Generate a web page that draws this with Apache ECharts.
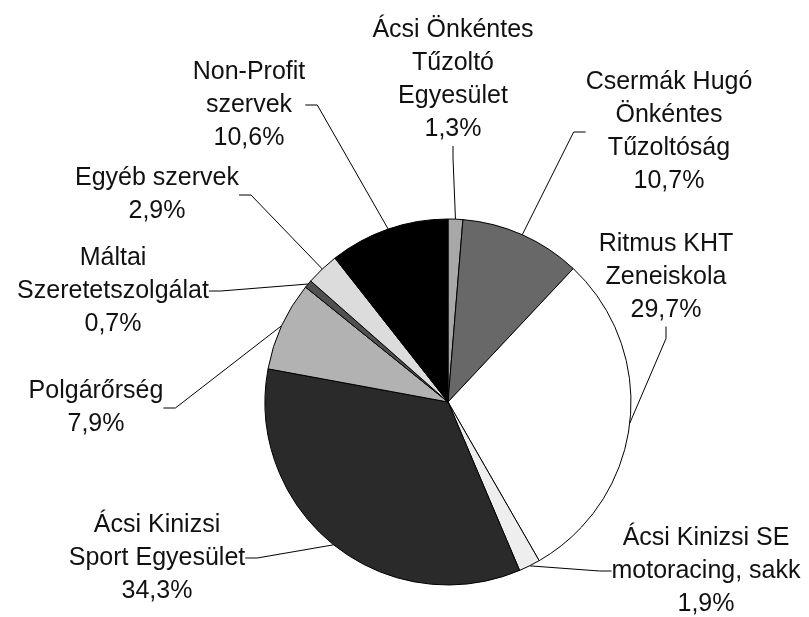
<!DOCTYPE html>
<html>
<head>
    <meta charset="UTF-8">
    <title>Támogatások megoszlása</title>
    <script src="https://cdn.jsdelivr.net/npm/echarts/dist/echarts.min.js"></script>
    <style>
        body { margin: 0; background: #fff; }
        #main { width: 809px; height: 617px; }
    </style>
</head>
<body>
    <div id="main"></div>
    <script>
        // adatok
        var names = [
            'Ácsi Önkéntes\nTűzoltó\nEgyesület',
            'Csermák Hugó\nÖnkéntes\nTűzoltóság',
            'Ritmus KHT\nZeneiskola',
            'Ácsi Kinizsi SE\nmotoracing, sakk',
            'Ácsi Kinizsi\nSport Egyesület',
            'Polgárőrség',
            'Máltai\nSzeretetszolgálat',
            'Egyéb szervek',
            'Non-Profit\nszervek'
        ];
        var values = [1.3, 10.7, 29.7, 1.9, 34.3, 7.9, 0.7, 2.9, 10.6];
        var colors = ['#a8a8a8', '#686868', '#ffffff', '#eeeeee', '#2a2a2a', '#b2b2b2', '#505050', '#dcdcdc', '#000000'];

        // címkék helye (középpont)
        var labelX = [453, 669, 666, 706, 157, 96, 113, 157, 249];
        var labelY = [80, 132, 277, 571, 558, 408, 291, 195, 105];

        var chart = echarts.init(document.getElementById('main'));

        var data = names.map(function (n, i) {
            return { name: n, value: values[i], itemStyle: { color: colors[i] } };
        });

        var option = {
            animation: false,
            backgroundColor: '#fff',
            series: [{
                type: 'pie',
                center: [448, 402],
                radius: 183,
                startAngle: 90,
                clockwise: true,
                avoidLabelOverlap: false,
                data: data,
                itemStyle: { borderColor: '#000', borderWidth: 1 },
                label: {
                    show: true,
                    position: 'outside',
                    color: '#111',
                    fontFamily: 'Liberation Sans, Arial, sans-serif',
                    fontSize: 25,
                    lineHeight: 33,
                    align: 'center',
                    formatter: function (p) {
                        return p.name + '\n' + p.value.toFixed(1).replace('.', ',') + '%';
                    }
                },
                labelLine: {
                    show: true,
                    length: 10,
                    length2: 12,
                    smooth: false,
                    lineStyle: { color: '#000', width: 1 }
                },
                labelLayout: function (params) {
                    var i = params.dataIndex;
                    return {
                        x: labelX[i],
                        y: labelY[i],
                        align: 'center',
                        verticalAlign: 'middle'
                    };
                },
                emphasis: { disabled: true }
            }]
        };

        chart.setOption(option);
    </script>
</body>
</html>
